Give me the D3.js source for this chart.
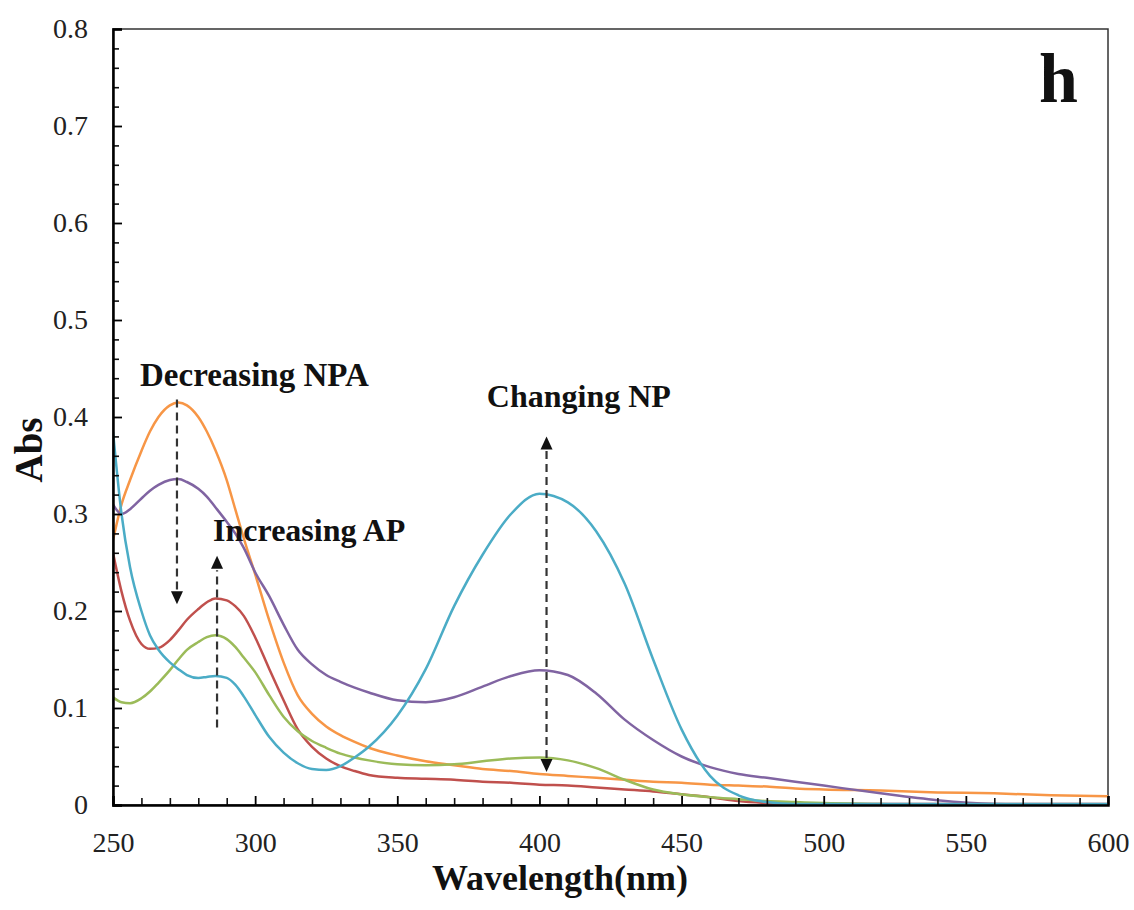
<!DOCTYPE html>
<html>
<head>
<meta charset="utf-8">
<script src="https://cdn.jsdelivr.net/npm/d3@7/dist/d3.min.js"></script>
<style>
  html, body { margin: 0; padding: 0; background: #fff; }
  svg { display: block; }
</style>
</head>
<body>
<svg id="chart" width="1134" height="910"></svg>
<script>
// ---------- data ----------
const wavelengths = [250,253,256,260,263,266,270,273,276,280,283,286,290,293,296,300,305,310,315,320,325,330,335,340,350,360,370,380,390,400,410,420,430,440,450,460,470,480,490,500,520,540,560,580,600];

const orangeAbs = [0.273,0.310,0.335,0.365,0.385,0.400,0.412,0.415,0.412,0.400,0.385,0.366,0.335,0.305,0.275,0.238,0.190,0.147,0.113,0.094,0.081,0.072,0.065,0.059,0.051,0.045,0.041,0.037,0.035,0.032,0.030,0.028,0.026,0.024,0.023,0.021,0.020,0.019,0.017,0.016,0.015,0.013,0.012,0.010,0.009];

const purpleAbs = [0.310,0.300,0.305,0.316,0.324,0.330,0.335,0.336,0.333,0.326,0.318,0.307,0.292,0.280,0.265,0.240,0.215,0.186,0.160,0.145,0.134,0.127,0.121,0.116,0.108,0.106,0.111,0.122,0.133,0.139,0.134,0.115,0.088,0.067,0.050,0.039,0.032,0.028,0.024,0.020,0.012,0.005,0.001,0.000,0.000];

const cyanAbs = [0.385,0.300,0.245,0.200,0.175,0.160,0.147,0.140,0.134,0.131,0.132,0.133,0.131,0.124,0.112,0.093,0.070,0.054,0.043,0.037,0.036,0.040,0.049,0.060,0.092,0.140,0.205,0.258,0.300,0.321,0.312,0.282,0.228,0.150,0.078,0.030,0.010,0.003,0.001,0.001,0.001,0.001,0.001,0.001,0.001];

const redAbs = [0.260,0.220,0.190,0.166,0.161,0.162,0.170,0.180,0.191,0.202,0.209,0.213,0.211,0.205,0.195,0.173,0.140,0.108,0.078,0.060,0.048,0.040,0.035,0.031,0.028,0.027,0.026,0.024,0.023,0.021,0.020,0.018,0.016,0.014,0.011,0.008,0.004,0.002,0.001,0.001,0.001,0.001,0.001,0.001,0.001];

const greenAbs = [0.111,0.106,0.105,0.110,0.117,0.126,0.139,0.150,0.160,0.168,0.173,0.175,0.171,0.163,0.152,0.137,0.113,0.091,0.076,0.066,0.059,0.053,0.049,0.046,0.042,0.041,0.042,0.045,0.048,0.049,0.046,0.038,0.026,0.016,0.011,0.008,0.006,0.004,0.003,0.002,0.001,0.000,0.000,0.000,0.000];

const seriesNames = ["orange","purple","red","green","cyan"];
const seriesValues = [orangeAbs, purpleAbs, redAbs, greenAbs, cyanAbs];
const seriesColors = ["#F79646","#8064A2","#C0504D","#9BBB59","#4BACC6"];

const xTicks = [250,300,350,400,450,500,550,600];
const xTickLabels = ["250","300","350","400","450","500","550","600"];
const yTicks = [0,0.1,0.2,0.3,0.4,0.5,0.6,0.7,0.8];
const yTickLabels = ["0","0.1","0.2","0.3","0.4","0.5","0.6","0.7","0.8"];

// ---------- layout ----------
const svg = d3.select("#chart");
const L = 113, R = 1108, T = 29, B = 805;
const x = d3.scaleLinear().domain([250, 600]).range([L, R]);
const y = d3.scaleLinear().domain([0, 0.8]).range([B, T]);

const serif = "'Liberation Serif','Times New Roman',Times,serif";

// frame (top & right)
svg.append("rect").attr("x", L).attr("y", T).attr("width", R - L).attr("height", B - T)
  .attr("fill", "none").attr("stroke", "#333").attr("stroke-width", 1.5);

// clip for curves
svg.append("clipPath").attr("id", "plotclip").append("rect")
  .attr("x", L).attr("y", T).attr("width", R - L).attr("height", B - T);

// curves
const line = d3.line()
  .x(d => x(d[0]))
  .y(d => y(d[1]))
  .curve(d3.curveMonotoneX);

const g = svg.append("g").attr("clip-path", "url(#plotclip)");
seriesValues.forEach((vals, i) => {
  g.append("path")
    .datum(wavelengths.map((w, j) => [w, vals[j]]))
    .attr("d", line)
    .attr("fill", "none")
    .attr("stroke", seriesColors[i])
    .attr("stroke-width", 2.5)
    .attr("stroke-linejoin", "round");
});

// minor ticks
const xMinor = d3.range(260, 600, 10).filter(v => v % 50 !== 0);
svg.append("g").attr("transform", `translate(0,${B})`)
  .call(d3.axisBottom(x).tickValues(xMinor).tickSize(-7).tickFormat(""))
  .call(s => s.select(".domain").remove())
  .call(s => s.selectAll("line").attr("stroke", "#111").attr("stroke-width", 1.6));
const yMinor = d3.range(1, 40).map(i => i * 0.02).filter((v, i) => (i + 1) % 5 !== 0);
svg.append("g").attr("transform", `translate(${L},0)`)
  .call(d3.axisLeft(y).tickValues(yMinor).tickSize(-6).tickFormat(""))
  .call(s => s.select(".domain").remove())
  .call(s => s.selectAll("line").attr("stroke", "#111").attr("stroke-width", 1.6));

// major axes
const xAxis = svg.append("g").attr("transform", `translate(0,${B})`)
  .call(d3.axisBottom(x).tickValues(xTicks).tickSize(-9).tickPadding(27)
    .tickFormat((d, i) => xTickLabels[i]));
xAxis.select(".domain").attr("stroke", "#000").attr("stroke-width", 2.5);
xAxis.selectAll("line").attr("stroke", "#000").attr("stroke-width", 1.8);
xAxis.selectAll("text").attr("font-family", serif).attr("font-size", 28).attr("fill", "#222");

const yAxis = svg.append("g").attr("transform", `translate(${L},0)`)
  .call(d3.axisLeft(y).tickValues(yTicks).tickSize(-9).tickPadding(25)
    .tickFormat((d, i) => yTickLabels[i]));
yAxis.select(".domain").attr("stroke", "#000").attr("stroke-width", 2.5);
yAxis.selectAll("line").attr("stroke", "#000").attr("stroke-width", 1.8);
yAxis.selectAll("text").attr("font-family", serif).attr("font-size", 28).attr("fill", "#222");

// axis titles
svg.append("text").attr("x", 560).attr("y", 890)
  .attr("text-anchor", "middle").attr("font-family", serif).attr("font-weight", "bold")
  .attr("font-size", 36).attr("fill", "#111").text("Wavelength(nm)");
svg.append("text").attr("transform", "translate(42,450) rotate(-90)")
  .attr("text-anchor", "middle").attr("font-family", serif).attr("font-weight", "bold")
  .attr("font-size", 39).attr("fill", "#111").text("Abs");

// panel letter
svg.append("text").attr("x", 1078).attr("y", 102).attr("text-anchor", "end")
  .attr("font-family", serif).attr("font-weight", "bold").attr("font-size", 70)
  .attr("fill", "#111").text("h");

// annotations
const annFont = 32;
function label(txt, wx, ay, size) {
  svg.append("text").attr("x", x(wx)).attr("y", y(ay))
    .attr("font-family", serif).attr("font-weight", "bold").attr("font-size", size || annFont)
    .attr("fill", "#111").text(txt);
}
label("Decreasing NPA", 259.5, 0.432, 33);
label("Changing NP", 381.5, 0.410, 32);
label("Increasing AP", 285.2, 0.272, 32);

function head(px, py, dir) {
  const w = 6, h = 13;
  const pts = dir > 0
    ? [[px, py], [px - w, py - h], [px + w, py - h]]
    : [[px, py], [px - w, py + h], [px + w, py + h]];
  svg.append("path").attr("d", d3.line()(pts) + "Z").attr("fill", "#111");
}
function dashed(wx, a1, a2) {
  svg.append("line").attr("x1", x(wx)).attr("x2", x(wx))
    .attr("y1", y(a1)).attr("y2", y(a2))
    .attr("stroke", "#333").attr("stroke-width", 2.2).attr("stroke-dasharray", "8,5");
}
// Decreasing NPA: down arrow
dashed(272.5, 0.418, 0.222);
head(x(272.5), y(0.207), 1);
// Increasing AP: up arrow
dashed(286.6, 0.080, 0.242);
head(x(286.6), y(0.257), -1);
// Changing NP: double arrow
dashed(402.5, 0.365, 0.048);
head(x(402.5), y(0.380), -1);
head(x(402.5), y(0.034), 1);
</script>
</body>
</html>
